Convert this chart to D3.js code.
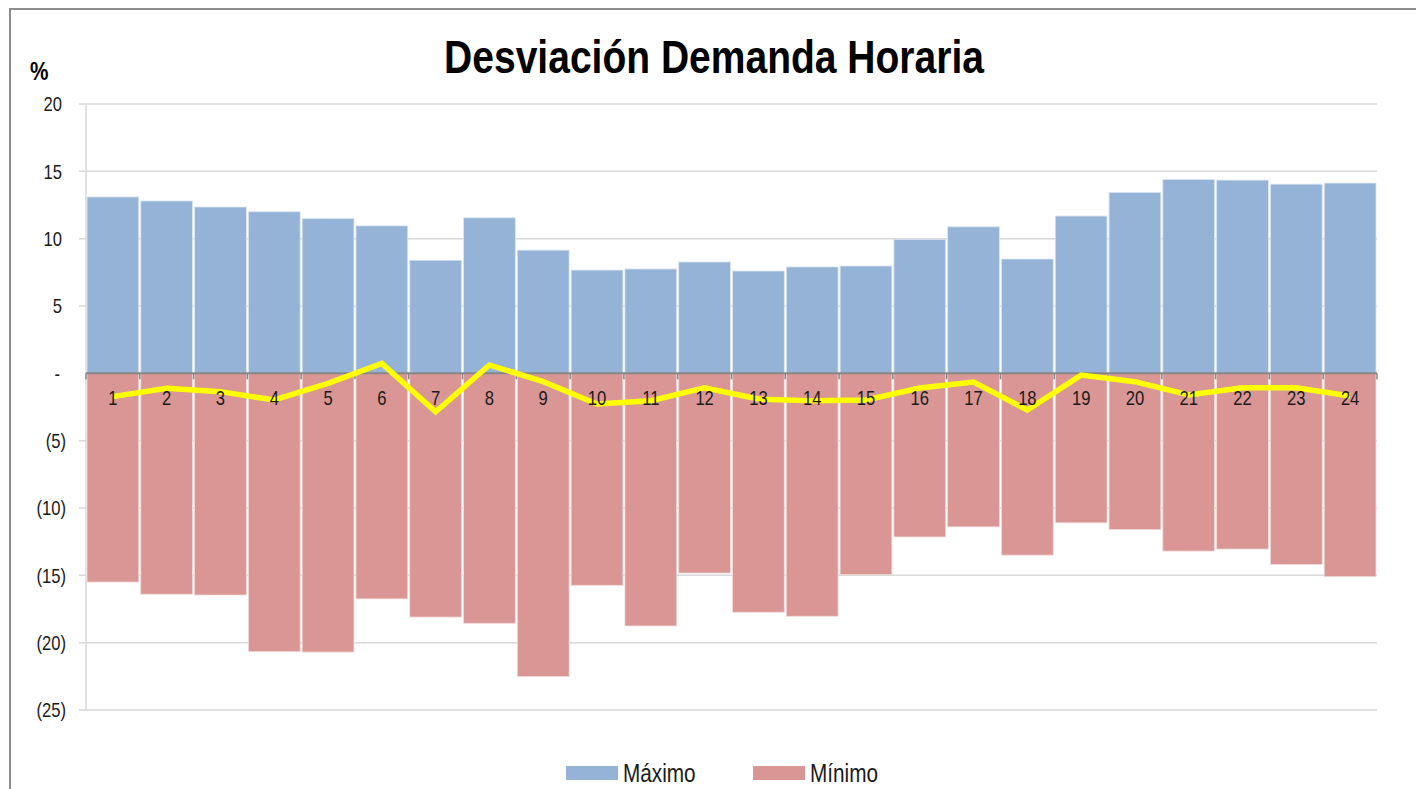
<!DOCTYPE html>
<html lang="es">
<head>
<meta charset="UTF-8">
<title>Desviación Demanda Horaria</title>
<style>
  body { margin: 0; background: #fff; }
  svg { display: block; font-family: "Liberation Sans Narrow", "Arial Narrow", "Liberation Sans", sans-serif; }
</style>
</head>
<body>
<svg id="chart" width="1416" height="789"></svg>
<script src="https://d3js.org/d3.v7.min.js"></script>
<script>
// data
var hours = ["1","2","3","4","5","6","7","8","9","10","11","12","13","14","15","16","17","18","19","20","21","22","23","24"];
var maximo = [13.1, 12.8, 12.35, 12.0, 11.5, 10.95, 8.4, 11.55, 9.15, 7.67, 7.75, 8.27, 7.6, 7.9, 7.97, 9.95, 10.88, 8.49, 11.68, 13.44, 14.4, 14.35, 14.05, 14.13];
var minimo = [-15.5, -16.4, -16.46, -20.67, -20.7, -16.75, -18.1, -18.56, -22.52, -15.74, -18.76, -14.83, -17.74, -18.04, -14.95, -12.15, -11.4, -13.5, -11.1, -11.6, -13.2, -13.05, -14.2, -15.1];
var desviacion = [-1.73, -1.11, -1.36, -1.98, -0.74, 0.74, -2.85, 0.62, -0.62, -2.28, -2.03, -1.07, -1.91, -2.03, -1.98, -1.09, -0.65, -2.72, -0.13, -0.62, -1.61, -1.07, -1.07, -1.69];
var yTicks = [20, 15, 10, 5, 0, -5, -10, -15, -20, -25];

// narrow look: the fallback font is squeezed horizontally
var squeeze = 0.83;
function place(sel, fx, fy) {
    return sel.attr("transform", function (d, i) {
        return "translate(" + fx(d, i) + "," + fy(d, i) + ") scale(" + squeeze + ",1)";
    });
}

var svg = d3.select("#chart");

// chart frame
svg.append("rect")
    .attr("x", 10).attr("y", 9)
    .attr("width", 1420).attr("height", 800)
    .attr("fill", "none").attr("stroke", "#8c8c8c").attr("stroke-width", 2);

var margin = { top: 104, left: 86, right: 39, bottom: 79 },
    width = 1416 - margin.left - margin.right,
    height = 789 - margin.top - margin.bottom;

var g = svg.append("g")
    .attr("transform", "translate(" + margin.left + "," + margin.top + ")");

var x = d3.scaleBand().domain(hours).range([0, width]).padding(0);
var y = d3.scaleLinear().domain([-25, 20]).range([height, 0]);

// gridlines + y ticks
g.selectAll(".grid")
    .data(yTicks.filter(function (d) { return d !== 0; }))
    .enter().append("line")
    .attr("x1", -7).attr("x2", width)
    .attr("y1", function (d) { return y(d); })
    .attr("y2", function (d) { return y(d); })
    .attr("stroke", "#d9d9d9").attr("stroke-width", 1.5);

g.append("line")
    .attr("x1", 0).attr("x2", 0)
    .attr("y1", 0).attr("y2", height)
    .attr("stroke", "#d9d9d9").attr("stroke-width", 1.5);

function fmt(d) {
    if (d === 0) return "-";
    if (d < 0) return "(" + Math.abs(d) + ")";
    return String(d);
}

place(g.selectAll(".ylab")
    .data(yTicks)
    .enter().append("text"),
    function (d) { return d < 0 ? -20 : (d === 0 ? -26 : -24); },
    function (d) { return y(d); })
    .attr("dy", "0.36em")
    .attr("text-anchor", "end")
    .attr("font-size", 20)
    .attr("fill", "#1a1a1a")
    .text(fmt);

// bars
g.selectAll(".max")
    .data(maximo)
    .enter().append("rect")
    .attr("x", function (d, i) { return x(hours[i]) + 1; })
    .attr("y", function (d) { return y(d); })
    .attr("width", x.bandwidth() - 2)
    .attr("height", function (d) { return y(0) - y(d); })
    .attr("fill", "#95b3d7")
    .attr("stroke", "#dce6f2").attr("stroke-width", 0.8);

g.selectAll(".min")
    .data(minimo)
    .enter().append("rect")
    .attr("x", function (d, i) { return x(hours[i]) + 1; })
    .attr("y", y(0))
    .attr("width", x.bandwidth() - 2)
    .attr("height", function (d) { return y(d) - y(0); })
    .attr("fill", "#d99694")
    .attr("stroke", "#f2dcdb").attr("stroke-width", 0.8);

// zero axis with ticks
g.append("line")
    .attr("x1", 0).attr("x2", width)
    .attr("y1", y(0)).attr("y2", y(0))
    .attr("stroke", "#868686").attr("stroke-width", 2);

g.selectAll(".xtick")
    .data(d3.range(hours.length + 1))
    .enter().append("line")
    .attr("x1", function (i) { return i * x.step(); })
    .attr("x2", function (i) { return i * x.step(); })
    .attr("y1", y(0)).attr("y2", y(0) + 6)
    .attr("stroke", "#868686").attr("stroke-width", 1.5);

// yellow line
var line = d3.line()
    .x(function (d, i) { return x(hours[i]) + x.bandwidth() / 2; })
    .y(function (d) { return y(d); });

g.append("path")
    .datum(desviacion)
    .attr("d", line)
    .attr("fill", "none")
    .attr("stroke", "#ffff00")
    .attr("stroke-width", 5.5)
    .attr("stroke-linejoin", "miter");

// category labels
place(g.selectAll(".xlab")
    .data(hours)
    .enter().append("text"),
    function (d) { return x(d) + x.bandwidth() / 2; },
    function () { return y(0) + 32; })
    .attr("text-anchor", "middle")
    .attr("font-size", 20)
    .attr("fill", "#1a1a1a")
    .text(function (d) { return d; });

// title and unit
place(svg.append("text").datum(0), function () { return 714; }, function () { return 73; })
    .attr("text-anchor", "middle")
    .attr("font-size", 47)
    .attr("font-weight", "bold")
    .text("Desviación Demanda Horaria");

place(svg.append("text").datum(0), function () { return 30; }, function () { return 80; })
    .attr("font-size", 25)
    .attr("font-weight", "bold")
    .text("%");

// legend
var legend = [{ name: "Máximo", color: "#95b3d7", x: 566 }, { name: "Mínimo", color: "#d99694", x: 753 }];
var lg = svg.selectAll(".legend").data(legend).enter().append("g");
lg.append("rect")
    .attr("x", function (d) { return d.x; }).attr("y", 766)
    .attr("width", 52).attr("height", 14)
    .attr("fill", function (d) { return d.color; });
place(lg.append("text"), function (d) { return d.x + 57; }, function () { return 782; })
    .attr("font-size", 25)
    .attr("fill", "#1a1a1a")
    .text(function (d) { return d.name; });
</script>
</body>
</html>
